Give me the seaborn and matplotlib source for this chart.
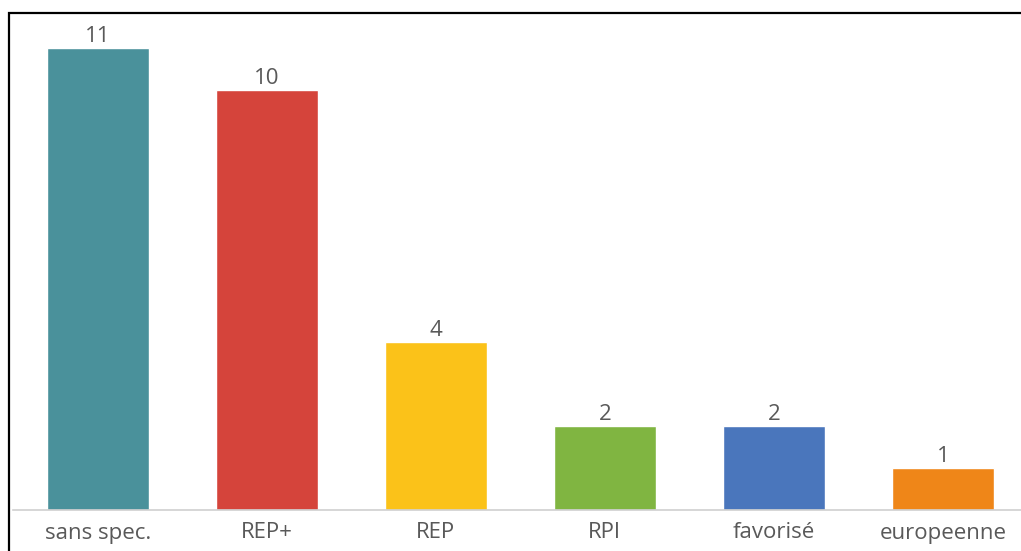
import matplotlib
matplotlib.use("Agg")
import matplotlib.pyplot as plt
import seaborn as sns
import pandas as pd
from matplotlib.patches import Rectangle

# chart data
categories = ['sans spec.', 'REP+', 'REP', 'RPI', 'favorisé', 'europeenne']
counts = [11, 10, 4, 2, 2, 1]
colors = ['#4A919B', '#D5443B', '#FBC219', '#80B541', '#4A76BC', '#EF8618']

df = pd.DataFrame({'categorie': categories, 'nombre': counts})

sns.set_style('white')
plt.rcParams['font.family'] = ['Open Sans', 'DejaVu Sans']

W, H = 1021, 551
fig = plt.figure(figsize=(W / 100, H / 100), dpi=100)
ax = fig.add_axes([13 / W, (H - 510) / H, 1016 / W, 504 / H])

sns.barplot(data=df, x='categorie', y='nombre', hue='categorie',
            palette=colors, width=0.6, legend=False, ax=ax,
            saturation=1)

for cont in ax.containers:
    ax.bar_label(cont, fontsize=16, color='#595959', padding=1)

ax.set_ylim(0, 12)
ax.set_xlim(-0.503, 5.51)
ax.set_xlabel('')
ax.set_ylabel('')
ax.set_yticks([])
ax.tick_params(axis='x', length=0, pad=9, labelsize=16, labelcolor='#595959')
for s in ['top', 'left', 'right']:
    ax.spines[s].set_visible(False)
ax.spines['bottom'].set_color('#D0D0D0')
ax.spines['bottom'].set_linewidth(1.2)

# black frame around the picture (cropped at right and bottom)
frame = Rectangle((8.5 / W, -0.1), 1.2, (H - 12.5) / H + 0.1,
                  transform=fig.transFigure, fill=False,
                  edgecolor='black', linewidth=1.6, clip_on=False)
fig.patches.append(frame)

fig.savefig('out.png', dpi=100)
